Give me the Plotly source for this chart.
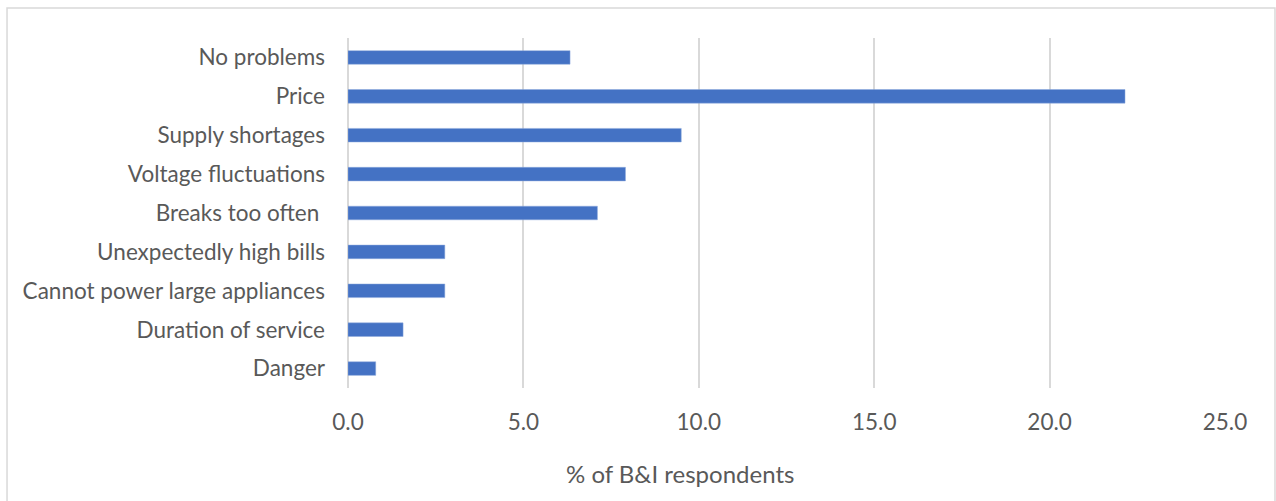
import plotly.graph_objects as go

categories = ["No problems", "Price", "Supply shortages", "Voltage fluctuations",
              "Breaks too often ", "Unexpectedly high bills",
              "Cannot power large appliances", "Duration of service", "Danger"]
values = [6.33, 22.15, 9.50, 7.91, 7.11, 2.76, 2.76, 1.57, 0.79]
x_ticks = [0, 5, 10, 15, 20, 25]
x_title = "% of B&I respondents"

FONT = "Lato"
GRAY = "#595959"

fig = go.Figure(go.Bar(
    x=values, y=categories, orientation="h",
    marker=dict(color="#4472C4", line=dict(color="#8FAADC", width=0.5)),
    width=0.35,
))

fig.update_layout(
    width=1276, height=501,
    margin=dict(l=348, r=51, t=38, b=113),
    plot_bgcolor="white", paper_bgcolor="white",
    font=dict(family=FONT, size=22.5, color=GRAY),
    showlegend=False,
    xaxis=dict(
        range=[0, 25], tickvals=x_ticks, tickformat=".1f",
        showgrid=True, gridcolor="#D9D9D9", gridwidth=2,
        zeroline=True, zerolinecolor="#D9D9D9", zerolinewidth=2,
        showline=False, ticks="",
        ticklabelstandoff=18,
        fixedrange=True,
    ),
    yaxis=dict(
        categoryorder="array", categoryarray=categories[::-1],
        showgrid=False, zeroline=False, showline=False, ticks="",
        ticklabelstandoff=22,
        fixedrange=True,
    ),
    annotations=[dict(text=x_title, xref="paper", yref="paper",
                      x=0.3786, y=-0.2457, xanchor="center", yanchor="middle",
                      showarrow=False, font=dict(size=24, color=GRAY))],
    shapes=[dict(type="rect", xref="paper", yref="paper",
                 x0=-0.3888, x1=1.0570, y0=-0.6, y1=1.0857,
                 line=dict(color="#D9D9D9", width=1.5), layer="below")],
)

fig.write_html("out.html", config={"displayModeBar": False},
               post_script="document.body.style.margin='0px';")
